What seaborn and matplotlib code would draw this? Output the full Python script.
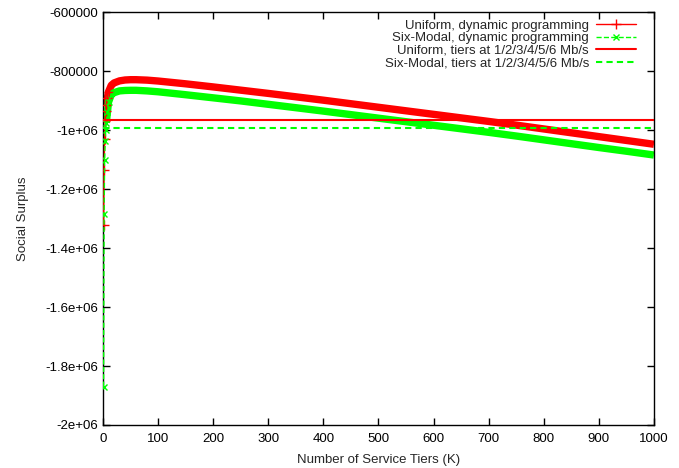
import matplotlib
matplotlib.use('Agg')
import matplotlib.pyplot as plt
import seaborn as sns
from matplotlib.ticker import FixedLocator, FixedFormatter

# data
tiers = [1, 2, 3, 4, 5, 6, 8, 10, 15, 20, 30, 40, 50, 60, 80, 100, 150, 200,
         250, 300, 350, 400, 450, 500, 550, 600, 650, 700, 750, 800, 850,
         900, 950, 1000]
uniform_dp = [-1323000, -1134000, -1030000, -970000, -935000, -915000,
              -890000, -870000, -848000, -840000, -833000, -830000, -829000,
              -829000, -830500, -833500, -843000, -853500, -864500, -875500,
              -887000, -898500, -910500, -922500, -934500, -946500, -958500,
              -970500, -983000, -996000, -1009000, -1022000, -1035000,
              -1048000]
sixmodal_dp = [-1870000, -1286000, -1102000, -1037000, -1000000, -975000,
               -940000, -905000, -880000, -873000, -867000, -865500, -865000,
               -865000, -867000, -870000, -880000, -890500, -901000, -912500,
               -924000, -935500, -947500, -959500, -971500, -983500, -995500,
               -1007500, -1020000, -1033000, -1046000, -1059000, -1071500,
               -1084500]
uniform_fixed = -965000
sixmodal_fixed = -993000

x_ticks = [0, 100, 200, 300, 400, 500, 600, 700, 800, 900, 1000]
y_ticks = [-2000000, -1800000, -1600000, -1400000, -1200000, -1000000,
           -800000, -600000]
y_ticklabels = ["-2e+06", "-1.8e+06", "-1.6e+06", "-1.4e+06", "-1.2e+06",
                "-1e+06", "-800000", "-600000"]

RED = "#ff0000"
GREEN = "#00ff00"

sns.set_style("ticks")
plt.rcParams['font.family'] = ['Liberation Sans', 'DejaVu Sans']
plt.rcParams['font.size'] = 9.5

fig = plt.figure(figsize=(6.79, 4.68), dpi=100)
ax = fig.add_axes([0.1517, 0.0919, 0.963 - 0.1517, 0.974 - 0.0919])

# thick bands made by the dense markers in the original
ax.plot(tiers[5:], uniform_dp[5:], color=RED, lw=5.3, solid_capstyle='butt', zorder=2)
ax.plot(tiers[5:], sixmodal_dp[5:], color=GREEN, lw=5.3, solid_capstyle='butt', zorder=2)

early = list(range(8))
sns.lineplot(x=tiers, y=uniform_dp, ax=ax, color=RED, lw=1, marker='+',
             markersize=7, markeredgewidth=1, markeredgecolor=RED,
             markevery=early, label="Uniform, dynamic programming", zorder=3)
sns.lineplot(x=tiers, y=sixmodal_dp, ax=ax, color=GREEN, lw=1, linestyle='--',
             marker='x', markersize=5, markeredgewidth=1, markeredgecolor=GREEN,
             markevery=early, label="Six-Modal, dynamic programming", zorder=3)
ax.axhline(uniform_fixed, color=RED, lw=1.5,
           label="Uniform, tiers at 1/2/3/4/5/6 Mb/s", zorder=4)
ax.axhline(sixmodal_fixed, color=GREEN, lw=1.5, linestyle=(0, (3, 2)),
           label="Six-Modal, tiers at 1/2/3/4/5/6 Mb/s", zorder=4)

ax.set_xlim(0, 1000)
ax.set_ylim(-2000000, -600000)
ax.xaxis.set_major_locator(FixedLocator(x_ticks))
ax.yaxis.set_major_locator(FixedLocator(y_ticks))
ax.yaxis.set_major_formatter(FixedFormatter(y_ticklabels))
ax.tick_params(direction='in', length=5, width=1, top=True, right=True,
               labelsize=9.5, colors='black')
ax.tick_params(axis='x', pad=6)
for s in ax.spines.values():
    s.set_visible(True)
    s.set_linewidth(1)
    s.set_color('black')

ax.set_xlabel("Number of Service Tiers (K)", fontsize=9.5, labelpad=6)
ax.set_ylabel("Social Surplus", fontsize=9.5, labelpad=12)

leg = ax.legend(loc='upper right', bbox_to_anchor=(0.978, 0.995), frameon=False,
                markerfirst=False, fontsize=9.5, handlelength=3.1,
                labelspacing=0.02, handletextpad=0.5, borderaxespad=0)
for col in leg._legend_handle_box.get_children():
    col.align = "right"

plt.savefig("out.png", dpi=100)
plt.close()
